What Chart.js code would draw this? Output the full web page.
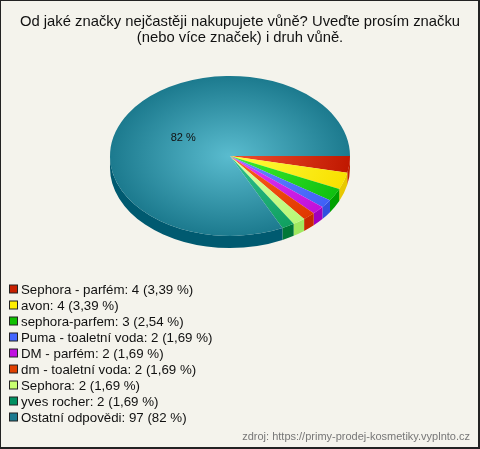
<!DOCTYPE html>
<html>
<head>
<meta charset="utf-8">
<script src="https://cdn.jsdelivr.net/npm/chart.js@4.4.1/dist/chart.umd.min.js"></script>
<style>
  html, body { margin: 0; padding: 0; background: #f4f3ec; }
  #wrap { width: 480px; height: 449px; position: relative; }
</style>
</head>
<body>
<div id="wrap"><canvas id="pie" width="480" height="449"></canvas></div>
<script>
const labels = ['Sephora - parfém', 'avon', 'sephora-parfem', 'Puma - toaletní voda', 'DM - parfém',
  'dm - toaletní voda', 'Sephora', 'yves rocher', 'Ostatní odpovědi'];
const counts = [4, 4, 3, 2, 2, 2, 2, 2, 97];
const percentText = ['3,39', '3,39', '2,54', '1,69', '1,69', '1,69', '1,69', '1,69', '82'];
const titleLines = ['Od jaké značky nejčastěji nakupujete vůně? Uveďte prosím značku', '(nebo více značek) i druh vůně.'];
const sourceText = 'zdroj: https://primy-prodej-kosmetiky.vyplnto.cz';

// colours: legend box, top centre, top edge, side
const boxColors = ['#c82000', '#ffee00', '#10c000', '#4466ff', '#c010e0', '#e04000', '#c8ff70', '#009060', '#1c7a90'];
const lightColors = ['#f05030', '#ffff40', '#40f030', '#6a8cff', '#e040ff', '#ff6020', '#e0ffa0', '#30c090', '#5abccf'];
const darkColors = ['#c01800', '#f8e000', '#10c010', '#4060f8', '#c010d8', '#e03800', '#b8f878', '#10a060', '#1c7a8e'];
const sideColors = ['#c02000', '#e8c800', '#00a000', '#3050e0', '#a000c0', '#c82800', '#a0e860', '#007838', '#005a70'];

const RADIUS = 120;
const SQUASH = 0.667;
const DEPTH = 12;
const SHIFT_X = -10; // pie sits a little left of the centred title

function center(chart) {
  const a = chart.chartArea;
  return { cx: (a.left + a.right) / 2, cy: (a.top + a.bottom) / 2 };
}

const pie3d = {
  id: 'pie3d',
  beforeDraw(chart) {
    const ctx = chart.ctx;
    ctx.save();
    ctx.fillStyle = '#f4f3ec';
    ctx.fillRect(0, 0, chart.width, chart.height);
    ctx.fillStyle = '#222';
    ctx.fillRect(0, 0, chart.width, 1);
    ctx.fillRect(0, 0, 1, chart.height);
    ctx.fillRect(chart.width - 2, 0, 2, chart.height);
    ctx.fillRect(0, chart.height - 2, chart.width, 2);
    ctx.restore();
  },
  beforeDatasetDraw(chart) {
    const ctx = chart.ctx;
    const { cx, cy } = center(chart);
    const px = cx + SHIFT_X;
    const arcs = chart.getDatasetMeta(0).data;
    ctx.save();
    // side walls, front half only
    arcs.forEach((arc, i) => {
      const p = arc.getProps(['startAngle', 'endAngle', 'outerRadius'], true);
      const a0 = Math.max(p.startAngle, 0);
      const a1 = Math.min(p.endAngle, Math.PI);
      if (a1 <= a0) return;
      const rx = p.outerRadius, r2 = p.outerRadius * SQUASH;
      ctx.beginPath();
      ctx.ellipse(px, cy, rx, r2, 0, a0, a1);
      ctx.ellipse(px, cy + DEPTH, rx, r2, 0, a1, a0, true);
      ctx.closePath();
      ctx.fillStyle = sideColors[i];
      ctx.fill();
    });
    ctx.translate(px, cy);
    ctx.scale(1, SQUASH);
    ctx.translate(-cx, -cy);
  },
  afterDatasetDraw(chart) {
    chart.ctx.restore();
  },
  afterDraw(chart) {
    const ctx = chart.ctx;
    const { cx, cy } = center(chart);
    const px = cx + SHIFT_X;
    const total = counts.reduce((s, v) => s + v, 0);
    ctx.save();
    // slice labels
    ctx.font = '11px "Liberation Sans", Arial, sans-serif';
    ctx.fillStyle = '#111';
    ctx.textAlign = 'center';
    ctx.textBaseline = 'middle';
    chart.getDatasetMeta(0).data.forEach((arc, i) => {
      if (counts[i] / total < 0.1) return;
      const p = arc.getProps(['startAngle', 'endAngle', 'outerRadius'], true);
      const mid = (p.startAngle + p.endAngle) / 2;
      const r = p.outerRadius * 0.46;
      ctx.fillText(percentText[i] + ' %', px + Math.cos(mid) * r, cy + Math.sin(mid) * r * SQUASH + 2);
    });
    // legend
    ctx.font = '13.3px "Liberation Sans", Arial, sans-serif';
    ctx.textAlign = 'left';
    labels.forEach((lab, i) => {
      const y = 289 + i * 16;
      ctx.fillStyle = '#222';
      ctx.fillRect(9, y - 4.5, 9, 9);
      ctx.fillStyle = boxColors[i];
      ctx.fillRect(10, y - 3.5, 7, 7);
      ctx.fillStyle = '#111';
      ctx.fillText(lab + ': ' + counts[i] + ' (' + percentText[i] + ' %)', 21, y + 1);
    });
    // source
    ctx.font = '11px "Liberation Sans", Arial, sans-serif';
    ctx.fillStyle = '#777';
    ctx.textAlign = 'right';
    ctx.fillText(sourceText, 470, 437);
    ctx.restore();
  }
};

new Chart(document.getElementById('pie'), {
  type: 'pie',
  data: {
    labels: labels,
    datasets: [{
      data: counts,
      borderWidth: 0,
      backgroundColor: (c) => {
        const chart = c.chart;
        if (!chart.chartArea) return boxColors[c.dataIndex];
        const { cx, cy } = center(chart);
        const g = chart.ctx.createRadialGradient(cx, cy, 0, cx, cy, RADIUS);
        g.addColorStop(0, lightColors[c.dataIndex]);
        g.addColorStop(1, darkColors[c.dataIndex]);
        return g;
      }
    }]
  },
  options: {
    responsive: false,
    animation: false,
    events: [],
    rotation: 90,
    radius: RADIUS,
    layout: { padding: { left: 0, right: 0, top: 0, bottom: 182.5 } },
    plugins: {
      legend: { display: false },
      tooltip: { enabled: false },
      title: {
        display: true,
        text: titleLines,
        color: '#111',
        font: { family: '"Liberation Sans", Arial, sans-serif', size: 14.8, weight: 'normal', lineHeight: 1.06 },
        padding: { top: 14, bottom: 0 }
      }
    }
  },
  plugins: [pie3d]
});
</script>
</body>
</html>
